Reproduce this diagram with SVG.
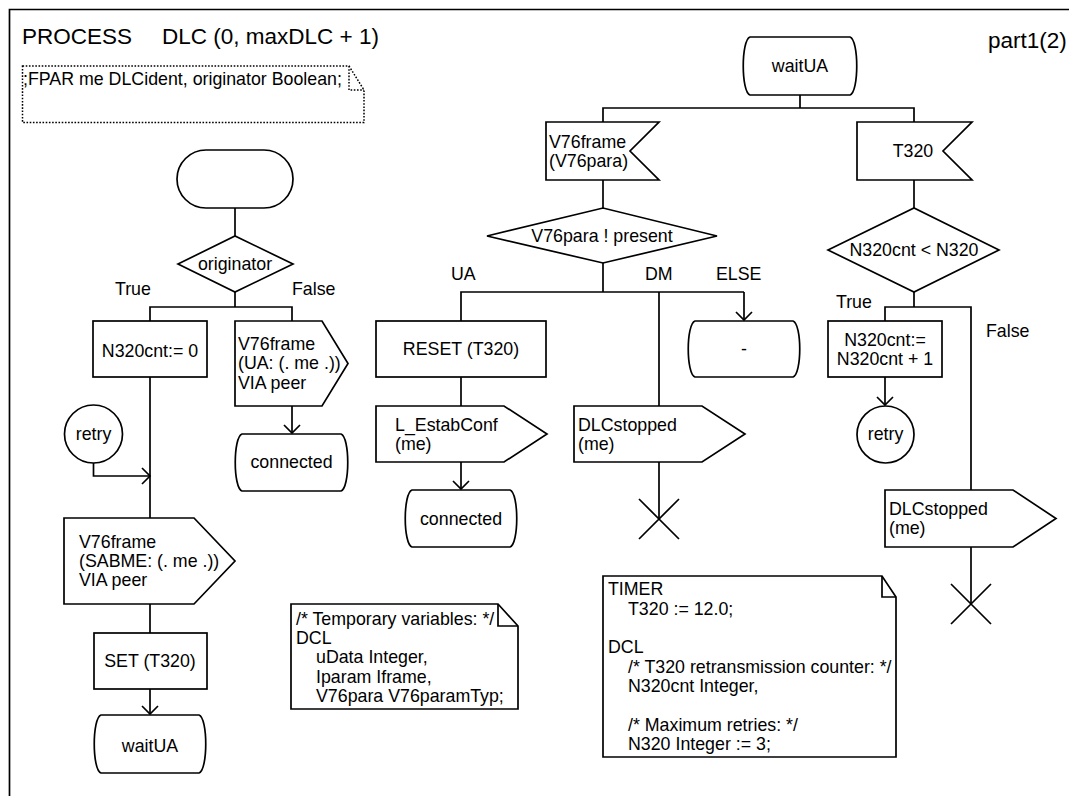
<svg xmlns="http://www.w3.org/2000/svg" width="1069" height="796" viewBox="0 0 1069 796">
  <defs>
    <style>
      text { font-family: "Liberation Sans", Arial, sans-serif; font-size: 17.8px; fill: #000; }
      .title { font-size: 22.5px; }
      .c { text-anchor: middle; }
      .shape { fill: #fff; stroke: #000; stroke-width: 1.7; stroke-linejoin: miter; }
      .line { fill: none; stroke: #000; stroke-width: 1.7; }
      .dot { fill: none; stroke: #000; stroke-width: 1.5; stroke-dasharray: 1.6 1.6; }
    </style>
    <marker id="arrow" markerUnits="userSpaceOnUse" markerWidth="20" markerHeight="20" viewBox="-10 -10 20 20" refX="0" refY="0" orient="auto">
      <path d="M-8,-8 L0,0 L-8,8" fill="none" stroke="#000" stroke-width="1.7"/>
    </marker>
  </defs>

  <rect width="1069" height="796" fill="#fff"/>

  <!-- diagram frame -->
  <path class="line" d="M9.5,796 V9.5 H1069"/>
  <text class="title" x="22" y="43.5">PROCESS</text>
  <text class="title" x="162" y="43.5">DLC (0, maxDLC + 1)</text>
  <text class="title" x="988" y="48">part1(2)</text>

  <!-- formal parameters -->
  <g id="fpar">
    <path class="dot" d="M22.5,66 H349 L364,90 V122.5 H22.5 Z M349,66 V90 H364"/>
    <text x="23" y="85">;FPAR me DLCident, originator Boolean;</text>
  </g>

  <!-- connectors -->
  <g id="connectors" class="line">
    <path d="M235,208 V236"/>
    <path d="M235,292 V307 M150,321 V307 H292 V321"/>
    <path d="M150,377 V518"/>
    <path d="M93.5,463 V476 H150" marker-end="url(#arrow)"/>
    <path d="M292,406 V433" marker-end="url(#arrow)"/>
    <path d="M150,604 V633"/>
    <path d="M150,689 V714" marker-end="url(#arrow)"/>

    <path d="M800,95 V108 M603,122 V108 H914 V122"/>
    <path d="M603,180 V208"/>
    <path d="M603,263 V292 M461,321 V292 H744"/>
    <path d="M744,292 V320" marker-end="url(#arrow)"/>
    <path d="M659,292 V406"/>
    <path d="M461,377 V406"/>
    <path d="M461,462 V489" marker-end="url(#arrow)"/>
    <path d="M659,462 V519"/>

    <path d="M914,180 V208"/>
    <path d="M914,292 V307 M885,321 V307 H971 V490"/>
    <path d="M885,377 V405" marker-end="url(#arrow)"/>
    <path d="M971,547 V604"/>
  </g>

  <!-- left column: start -->
  <g id="start">
    <rect class="shape" x="177" y="150" width="116" height="58" rx="29" ry="29"/>
  </g>
  <g id="dec-originator">
    <path class="shape" d="M178,264 L235,236 L293,264 L235,292 Z"/>
    <text class="c" x="235" y="270">originator</text>
  </g>
  <text x="115" y="295">True</text>
  <text x="292" y="295">False</text>

  <g id="task-n320cnt-init">
    <rect class="shape" x="93" y="321" width="114" height="56"/>
    <text class="c" x="150" y="357">N320cnt:= 0</text>
  </g>
  <g id="out-ua">
    <path class="shape" d="M235,321 H322 L348,363.5 L322,406 H235 Z"/>
    <text x="238" y="350">V76frame</text>
    <text x="238" y="369">(UA: (. me .))</text>
    <text x="238" y="388.5">VIA peer</text>
  </g>
  <g id="state-connected-1">
    <path class="shape" d="M242,434 H341 C350,437 350,488 341,491 H242 C233,488 233,437 242,434 Z"/>
    <text class="c" x="291.5" y="468">connected</text>
  </g>
  <g id="conn-retry-in">
    <circle class="shape" cx="93.5" cy="434" r="29"/>
    <text class="c" x="93.5" y="440">retry</text>
  </g>
  <g id="out-sabme">
    <path class="shape" d="M64,518 H194 L235,561 L194,604 H64 Z"/>
    <text x="79" y="548">V76frame</text>
    <text x="79" y="567">(SABME: (. me .))</text>
    <text x="79" y="586">VIA peer</text>
  </g>
  <g id="task-set">
    <rect class="shape" x="94" y="633" width="113" height="56"/>
    <text class="c" x="150" y="667">SET (T320)</text>
  </g>
  <g id="state-waitua-next">
    <path class="shape" d="M101,715 H199 C208,718 208,770 199,773 H101 C92,770 92,718 101,715 Z"/>
    <text class="c" x="150" y="752">waitUA</text>
  </g>

  <!-- temporary variables -->
  <g id="text-dcl-temp">
    <path class="shape" d="M291,604 H498 L518,626 V709 H291 Z"/>
    <path class="line" d="M498,604 V626 H518"/>
    <text x="296" y="625">/* Temporary variables: */</text>
    <text x="296" y="644">DCL</text>
    <text x="316" y="663">uData Integer,</text>
    <text x="316" y="683">Iparam Iframe,</text>
    <text x="316" y="701.5">V76para V76paramTyp;</text>
  </g>

  <!-- state waitUA -->
  <g id="state-waitua">
    <path class="shape" d="M750,37 H850 C859,40 859,92 850,95 H750 C741,92 741,40 750,37 Z"/>
    <text class="c" x="800" y="72">waitUA</text>
  </g>
  <g id="in-v76frame">
    <path class="shape" d="M546,122 H659 L630,151 L659,180 H546 Z"/>
    <text x="549" y="148">V76frame</text>
    <text x="549" y="167">(V76para)</text>
  </g>
  <g id="dec-v76para">
    <path class="shape" d="M487,236 L603,208 L717,236 L603,263 Z"/>
    <text class="c" x="602" y="242">V76para ! present</text>
  </g>
  <text x="451" y="280">UA</text>
  <text x="645" y="280">DM</text>
  <text x="716" y="280">ELSE</text>

  <g id="task-reset">
    <rect class="shape" x="376" y="321" width="170" height="56"/>
    <text class="c" x="461" y="355">RESET (T320)</text>
  </g>
  <g id="out-estabconf">
    <path class="shape" d="M376,406 H504 L547,434 L504,462 H376 Z"/>
    <text x="395" y="431">L_EstabConf</text>
    <text x="395" y="450">(me)</text>
  </g>
  <g id="state-connected-2">
    <path class="shape" d="M412,490 H510 C519,493 519,544 510,547 H412 C403,544 403,493 412,490 Z"/>
    <text class="c" x="461" y="525">connected</text>
  </g>
  <g id="out-dlcstopped-1">
    <path class="shape" d="M574,406 H702 L745,434 L702,462 H574 Z"/>
    <text x="578" y="431">DLCstopped</text>
    <text x="578" y="450">(me)</text>
  </g>
  <g id="stop-1">
    <path class="line" d="M639,499 L679,539 M639,539 L679,499"/>
  </g>
  <g id="state-dash">
    <path class="shape" d="M695,321 H793 C802,324 802,374 793,377 H695 C686,374 686,324 695,321 Z"/>
    <text class="c" x="744" y="355">-</text>
  </g>

  <!-- timer branch -->
  <g id="in-t320">
    <path class="shape" d="M857,122 H972 L943,151 L972,180 H857 Z"/>
    <text class="c" x="913" y="157">T320</text>
  </g>
  <g id="dec-n320">
    <path class="shape" d="M828,250 L914,208 L999,250 L914,292 Z"/>
    <text class="c" x="914" y="256">N320cnt &lt; N320</text>
  </g>
  <text x="836" y="308">True</text>
  <text x="986" y="337">False</text>
  <g id="task-n320cnt-inc">
    <rect class="shape" x="828" y="321" width="114" height="56"/>
    <text class="c" x="885" y="346">N320cnt:=</text>
    <text class="c" x="885" y="365">N320cnt + 1</text>
  </g>
  <g id="conn-retry-out">
    <circle class="shape" cx="885.5" cy="434.5" r="28.5"/>
    <text class="c" x="885.5" y="440">retry</text>
  </g>
  <g id="out-dlcstopped-2">
    <path class="shape" d="M885,490 H1013 L1056,518.5 L1013,547 H885 Z"/>
    <text x="889" y="515">DLCstopped</text>
    <text x="889" y="534">(me)</text>
  </g>
  <g id="stop-2">
    <path class="line" d="M951,584 L991,624 M951,624 L991,584"/>
  </g>

  <!-- timer and variable declarations -->
  <g id="text-dcl-timer">
    <path class="shape" d="M603,576 H882 L896,597 V757 H603 Z"/>
    <path class="line" d="M882,576 V597 H896"/>
    <text x="608" y="595">TIMER</text>
    <text x="628" y="615">T320 := 12.0;</text>
    <text x="608" y="653">DCL</text>
    <text x="628" y="673">/* T320 retransmission counter: */</text>
    <text x="628" y="692">N320cnt Integer,</text>
    <text x="628" y="731">/* Maximum retries: */</text>
    <text x="628" y="750">N320 Integer := 3;</text>
  </g>
</svg>
